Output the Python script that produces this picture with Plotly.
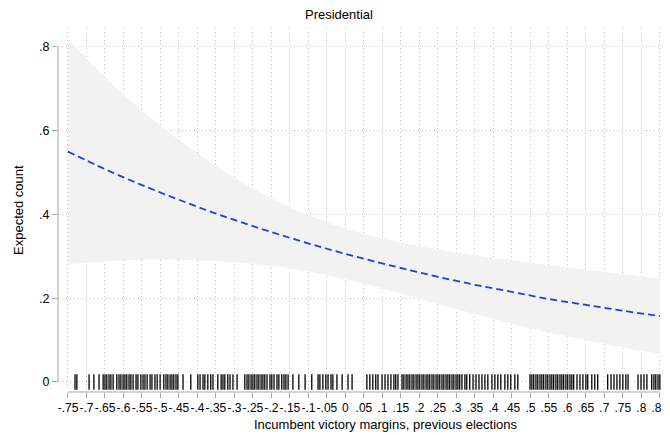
import plotly.graph_objects as go

# ---- data ----
x_grid = [-0.75, -0.65, -0.55, -0.45, -0.35, -0.25, -0.15, -0.05,
          0.05, 0.15, 0.25, 0.35, 0.45, 0.55, 0.65, 0.75, 0.85]
expected = [0.550, 0.508, 0.470, 0.435, 0.402, 0.372, 0.344, 0.318,
            0.294, 0.272, 0.251, 0.232, 0.215, 0.198, 0.184, 0.170, 0.157]
ci_upper = [0.819, 0.728, 0.648, 0.578, 0.515, 0.462, 0.417, 0.381,
            0.353, 0.333, 0.316, 0.302, 0.291, 0.278, 0.268, 0.258, 0.247]
ci_lower = [0.281, 0.288, 0.292, 0.292, 0.289, 0.282, 0.271, 0.255,
            0.235, 0.211, 0.186, 0.162, 0.139, 0.118, 0.100, 0.082, 0.067]

rug_x = [
    -0.731, -0.726, -0.693, -0.680, -0.666, -0.655, -0.650, -0.645, -0.639, -0.634,
    -0.628, -0.618, -0.612, -0.607, -0.601, -0.596, -0.591, -0.585, -0.580, -0.574,
    -0.566, -0.561, -0.553, -0.547, -0.542, -0.536, -0.528, -0.523, -0.515, -0.509,
    -0.501, -0.491, -0.485, -0.480, -0.474, -0.469, -0.464, -0.458, -0.453, -0.439,
    -0.418, -0.399, -0.393, -0.385, -0.380, -0.372, -0.364, -0.358, -0.345, -0.336,
    -0.331, -0.326, -0.318, -0.312, -0.304, -0.293, -0.272, -0.266, -0.261, -0.255,
    -0.250, -0.245, -0.239, -0.234, -0.228, -0.223, -0.218, -0.212, -0.204, -0.199,
    -0.193, -0.185, -0.180, -0.172, -0.166, -0.161, -0.155, -0.142, -0.126, -0.109,
    -0.091, -0.074, -0.069, -0.061, -0.053, -0.047, -0.039, -0.034, -0.023, -0.009,
    0.007, 0.018, 0.058, 0.066, 0.074, 0.082, 0.088, 0.099, 0.107, 0.115,
    0.123, 0.131, 0.136, 0.142, 0.153, 0.158, 0.164, 0.169, 0.174, 0.180,
    0.185, 0.191, 0.196, 0.201, 0.207, 0.212, 0.218, 0.223, 0.228, 0.234,
    0.239, 0.245, 0.250, 0.255, 0.261, 0.266, 0.272, 0.277, 0.282, 0.288,
    0.293, 0.299, 0.304, 0.309, 0.315, 0.323, 0.328, 0.336, 0.345, 0.353,
    0.361, 0.369, 0.377, 0.385, 0.396, 0.404, 0.412, 0.420, 0.431, 0.439,
    0.447, 0.458, 0.466, 0.499, 0.504, 0.509, 0.515, 0.520, 0.526, 0.531,
    0.536, 0.542, 0.547, 0.553, 0.558, 0.563, 0.569, 0.574, 0.580, 0.585,
    0.590, 0.596, 0.601, 0.607, 0.612, 0.617, 0.626, 0.634, 0.642, 0.650,
    0.655, 0.666, 0.674, 0.682, 0.709, 0.718, 0.726, 0.734, 0.742, 0.750,
    0.758, 0.764, 0.791, 0.799, 0.807, 0.815, 0.828, 0.834, 0.839, 0.845, 0.850,
]
rug_y = [0.0] * len(rug_x)

x_tickvals = [-0.75, -0.7, -0.65, -0.6, -0.55, -0.5, -0.45, -0.4, -0.35, -0.3,
              -0.25, -0.2, -0.15, -0.1, -0.05, 0, 0.05, 0.1, 0.15, 0.2, 0.25,
              0.3, 0.35, 0.4, 0.45, 0.5, 0.55, 0.6, 0.65, 0.7, 0.75, 0.8, 0.85]
x_ticktext = ["-.75", "-.7", "-.65", "-.6", "-.55", "-.5", "-.45", "-.4", "-.35", "-.3",
              "-.25", "-.2", "-.15", "-.1", "-.05", "0", ".05", ".1", ".15", ".2", ".25",
              ".3", ".35", ".4", ".45", ".5", ".55", ".6", ".65", ".7", ".75", ".8", ".85"]
y_tickvals = [0, 0.2, 0.4, 0.6, 0.8]
y_ticktext = ["0", ".2", ".4", ".6", ".8"]

FONT = "Liberation Sans, Arial, Helvetica, sans-serif"
AXIS_GRAY = "#a6a6a6"
GRID = "#c4c4c4"

fig = go.Figure()
fig.add_trace(go.Scatter(x=x_grid, y=ci_lower, mode="lines",
                         line=dict(width=0, shape="spline"), hoverinfo="skip",
                         showlegend=False))
fig.add_trace(go.Scatter(x=x_grid, y=ci_upper, mode="lines",
                         line=dict(width=0, shape="spline"), fill="tonexty",
                         fillcolor="#f2f2f2", hoverinfo="skip", showlegend=False))
fig.add_trace(go.Scatter(x=x_grid, y=expected, mode="lines",
                         line=dict(color="#1c40e0", width=1.8, dash="7px,4px",
                                   shape="spline"),
                         showlegend=False))
fig.add_trace(go.Scatter(x=rug_x, y=rug_y, mode="markers",
                         marker=dict(symbol="line-ns", size=11,
                                     line=dict(color="black", width=1.3)),
                         showlegend=False))

# page body has an 8px margin, so the figure is 8px smaller than the window
fig.update_layout(
    width=662, height=427,
    margin=dict(l=50, r=2, t=20, b=43, autoexpand=False),
    plot_bgcolor="white", paper_bgcolor="white",
    font=dict(family=FONT, size=12, color="black"),
    showlegend=False,
    xaxis=dict(range=[-0.777, 0.872], tickvals=x_tickvals, ticktext=x_ticktext,
               tickangle=0, ticks="outside", ticklen=5, tickcolor=AXIS_GRAY,
               showline=False, zeroline=False, automargin=False,
               ticklabeloverflow="allow",
               showgrid=True, gridcolor=GRID, griddash="1px,3px", gridwidth=1,
               tickfont=dict(size=12)),
    yaxis=dict(range=[-0.024, 0.845], tickvals=y_tickvals, ticktext=y_ticktext,
               ticks="outside", ticklen=5, tickcolor=AXIS_GRAY,
               showline=False, zeroline=False, automargin=False,
               showgrid=True, gridcolor=GRID, griddash="1px,3px", gridwidth=1,
               tickfont=dict(size=12.5)),
    shapes=[
        dict(type="line", xref="paper", yref="y", x0=0, x1=0, y0=0, y1=0.8,
             line=dict(color=AXIS_GRAY, width=1), layer="above"),
        dict(type="line", xref="x", yref="paper", x0=-0.75, x1=0.85, y0=0, y1=0,
             line=dict(color=AXIS_GRAY, width=1), layer="above"),
    ],
    annotations=[
        dict(text="Presidential", xref="paper", yref="paper", x=(339 - 58) / 610,
             y=1, yshift=14, showarrow=False, xanchor="center", yanchor="middle",
             font=dict(size=13)),
        dict(text="Incumbent victory margins, previous elections", xref="paper",
             yref="paper", x=(386 - 58) / 610, y=0, yshift=-32, showarrow=False,
             xanchor="center", yanchor="middle", font=dict(size=13)),
        dict(text="Expected count", xref="paper", yref="paper", x=0, xshift=-40,
             y=0.5, showarrow=False, textangle=-90, xanchor="center",
             yanchor="middle", font=dict(size=13)),
    ],
)

fig.write_html("out.html")
